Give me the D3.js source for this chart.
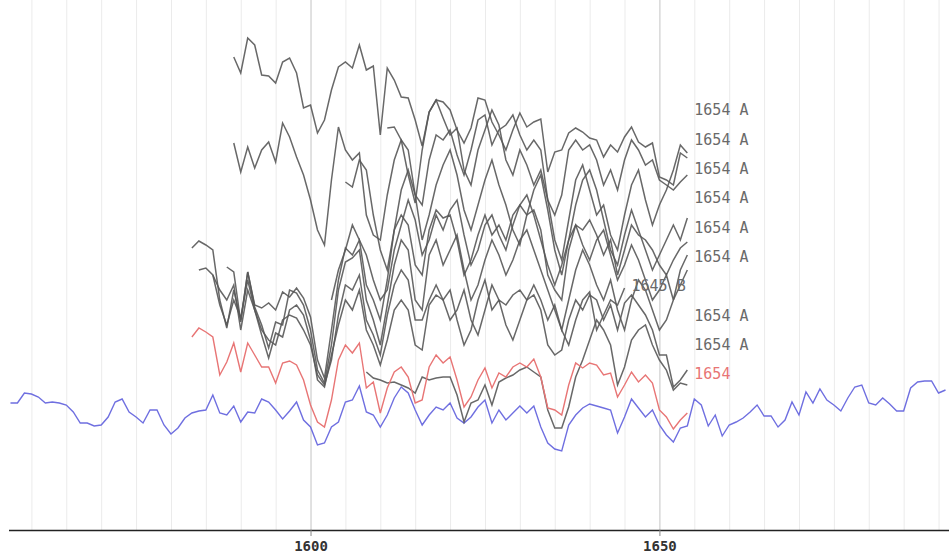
<!DOCTYPE html>
<html>
<head>
<meta charset="utf-8">
<script src="https://cdn.jsdelivr.net/npm/d3@7"></script>
<style>
	body { margin: 0; background: #fff; }
	svg { display: block; }
	.lbl { font-family: "DejaVu Sans Mono", monospace; font-size: 15px; }
	.axis text { font-family: "DejaVu Sans Mono", monospace; font-size: 14px; font-weight: bold; fill: #333; }
</style>
</head>
<body>
<svg id="chart" width="949" height="557"></svg>
<script>
// years shown on the axis
var tickYears = [1600, 1650];

// master chronology (blue), 1557-1691
var masterStart = 1557;
var master = [
	12.7, 12.7, 13.7, 13.6, 13.3, 12.7, 12.8, 12.7, 12.5, 11.8,
	10.7, 10.7, 10.4, 10.5, 11.3, 12.8, 13.1, 11.8, 11.3, 10.7,
	12.0, 12.0, 10.5, 9.6, 10.2, 11.2, 11.7, 11.9, 12.0, 13.5,
	11.7, 11.5, 12.4, 10.8, 11.8, 11.7, 13.1, 12.8, 12.0, 11.1,
	11.9, 12.8, 11.0, 10.3, 8.5, 8.7, 10.3, 10.8, 12.8, 13.0,
	14.4, 11.8, 11.5, 10.3, 11.5, 13.2, 14.3, 13.7, 12.0, 10.5,
	11.5, 12.3, 12.0, 12.7, 11.2, 10.7, 11.3, 12.3, 13.0, 10.7,
	12.0, 11.0, 11.7, 12.4, 11.7, 12.4, 10.3, 8.7, 8.1, 7.9,
	10.5, 11.5, 12.2, 12.6, 12.4, 12.2, 12.0, 9.7, 11.3, 13.1,
	12.2, 11.3, 12.0, 10.5, 9.5, 8.8, 10.2, 10.4, 13.1, 12.5,
	10.4, 11.5, 9.4, 10.5, 10.8, 11.2, 11.8, 12.5, 11.4, 11.4,
	10.3, 11.0, 12.8, 11.5, 13.8, 12.7, 14.1, 13.0, 12.5, 11.9,
	13.2, 14.3, 14.5, 12.7, 12.5, 13.2, 12.6, 11.9, 11.9, 14.2,
	14.8, 14.9, 14.9, 13.7, 14.0
];

// site mean (red), 1583-1654
var meanStart = 1583;
var meanSeries = [
	19.3, 20.2, 19.8, 19.3, 15.5, 16.8, 18.7, 15.8, 18.7, 17.5,
	16.3, 16.3, 14.7, 16.7, 16.9, 16.5, 15.0, 12.5, 10.8, 10.3,
	13.0, 17.0, 18.5, 17.7, 18.7, 14.2, 14.8, 11.7, 14.2, 15.8,
	16.3, 15.3, 12.7, 13.0, 16.3, 17.5, 16.7, 17.3, 15.0, 12.3,
	13.3, 15.0, 16.2, 14.2, 15.7, 15.3, 16.3, 16.7, 16.3, 17.1,
	15.3, 12.2, 12.0, 11.5, 14.5, 16.7, 16.2, 16.7, 16.5, 15.5,
	15.7, 13.3, 14.5, 15.8, 14.8, 15.5, 14.7, 12.0, 11.3, 10.1,
	11.0, 11.7
];

// samples (grey), listed in label order top to bottom
var sampleNames = ['s1', 's2', 's3', 's4', 's5', 's6', 'sB', 's7', 's8', 's9'];
var sampleStarts = [1589, 1589, 1611, 1605, 1583, 1588, 1586, 1584, 1608, 1603];
var sampleGroups = ['A', 'A', 'A', 'A', 'A', 'A', 'B', 'A', 'A', 'A'];

var s1 = [
	47.3, 45.7, 49.2, 48.5, 45.5, 45.4, 44.7, 46.8, 47.2, 45.7,
	42.2, 42.5, 39.7, 41.0, 44.0, 46.3, 46.8, 46.2, 48.5, 46.0,
	46.4, 39.5, 46.2, 45.0, 43.3, 43.2, 41.0, 38.4, 41.8, 43.0,
	42.8, 42.0, 40.0, 38.7, 40.2, 43.2, 43.0, 40.8, 39.5, 38.0,
	40.0, 41.7, 40.3, 40.8, 41.1, 35.8, 37.8, 38.0, 39.7, 40.2,
	39.8, 39.2, 39.0, 37.3, 38.5, 37.8, 39.3, 40.3, 38.8, 38.3,
	38.7, 35.3, 35.0, 34.5, 37.7, 37.2
];
var s2 = [
	38.7, 35.8, 38.3, 36.2, 38.0, 38.8, 36.8, 40.7, 39.3, 37.3,
	35.5, 33.0, 30.0, 28.5, 35.0, 40.3, 38.0, 37.0, 37.7, 31.5,
	29.5, 29.0, 33.5, 37.0, 39.0, 38.0, 33.5, 32.5, 37.0, 39.5,
	39.0, 40.0, 37.5, 35.5, 38.0, 41.0, 41.5, 38.5, 40.0, 40.5,
	41.5, 39.5, 38.0, 39.0, 38.0, 33.0, 31.5, 33.5, 38.0, 39.0,
	38.0, 38.5, 37.0, 34.5, 36.0, 34.0, 37.0, 39.0, 38.0, 36.5,
	37.0, 35.0, 34.5, 34.0, 34.8, 35.5
];
var s3 = [
	40.2, 40.3, 39.0, 35.5, 32.7, 38.0, 41.8, 43.0, 41.2, 39.5,
	40.2, 36.0, 34.5, 38.0, 40.0, 42.0, 40.5, 37.0, 35.5, 38.0,
	36.5, 34.5, 36.0, 33.0, 29.0, 27.0, 31.0, 35.0, 36.5, 34.0,
	31.5, 32.5, 29.5, 28.0, 31.5, 34.5, 36.0, 33.0, 30.5, 32.5,
	34.0, 36.0, 38.5, 37.7
];
var s4 = [
	34.8, 34.3, 37.0, 36.0, 31.5, 28.0, 26.0, 30.0, 34.0, 36.0,
	33.5, 29.0, 31.5, 34.5, 36.5, 38.0, 35.5, 32.0, 30.0, 32.5,
	35.0, 37.0, 34.5, 32.5, 30.0, 28.5, 31.5, 34.0, 35.5, 32.0,
	28.0, 25.5, 29.0, 32.5, 35.0, 36.0, 34.0, 31.0, 28.0, 26.5,
	29.5, 32.0, 30.0, 28.0, 26.0, 27.5, 29.0, 30.5, 29.0, 31.2
];
var s5 = [
	28.2, 28.9, 28.5, 28.0, 23.0, 20.2, 24.0, 21.0, 25.8, 22.5,
	22.2, 22.7, 22.0, 23.8, 23.3, 24.2, 23.2, 21.3, 17.0, 15.2,
	20.0, 25.0, 28.2, 27.5, 29.0, 24.5, 23.0, 21.0, 25.0, 30.0,
	31.5, 30.5, 26.5, 25.5, 30.0, 32.0, 31.2, 31.5, 29.0, 25.5,
	27.0, 29.5, 31.5, 29.5, 30.5, 29.0, 31.5, 32.5, 31.5, 32.0,
	30.0, 25.5, 24.0, 23.0, 28.0, 30.5, 30.0, 31.0, 29.5, 27.5,
	29.0, 25.5, 28.0, 30.5, 29.5, 29.0, 28.0, 26.5, 25.5, 27.0,
	28.2, 28.8
];
var s6 = [
	26.3, 25.8, 20.8, 25.8, 22.3, 20.5, 18.2, 20.8, 20.5, 24.0,
	23.7, 22.5, 20.0, 16.0, 14.7, 18.5, 24.0, 26.8, 27.2, 28.0,
	23.0, 21.0, 18.5, 22.5, 26.5, 29.0, 28.0, 23.0, 22.0, 27.5,
	29.0, 26.5, 28.0, 29.5, 26.0, 23.0, 24.5, 27.0, 29.0, 27.5,
	25.5, 27.0, 29.0, 30.0, 28.0, 26.0, 24.0, 22.0, 20.0, 23.0,
	26.0, 28.0, 26.5, 24.5, 23.0, 25.0, 22.0, 20.0, 23.0, 25.0,
	24.0, 22.0, 20.0, 21.0, 23.0, 24.5, 26.0
];
var sB = [
	25.5, 24.0, 23.0, 24.5, 20.0, 24.0, 22.0, 20.0, 19.0, 18.5,
	21.0, 21.5, 21.2, 20.0, 18.5, 15.5, 14.5, 17.0, 21.5, 24.5,
	24.0, 25.5, 21.0, 19.5, 17.5, 21.5, 24.5, 26.0, 25.0, 21.0,
	21.0, 23.0, 24.5, 23.0, 21.0, 22.0, 24.0, 21.0, 19.5, 22.0,
	24.5, 23.0, 20.5, 19.0, 21.0, 23.0, 24.5, 23.0, 21.0, 22.5,
	20.0, 18.5, 21.0, 23.0, 23.8, 20.0, 21.5, 23.0, 22.5, 24.2
];
var s7 = [
	26.0, 26.2, 25.5, 22.5, 20.5, 23.0, 21.2, 25.0, 22.0, 19.5,
	17.2, 19.7, 19.3, 22.0, 22.5, 21.5, 19.0, 15.0, 14.3, 17.5,
	20.5, 23.0, 22.0, 24.0, 20.0, 18.5, 16.5, 19.0, 22.0, 23.0,
	22.0, 18.5, 18.0, 22.5, 23.5, 23.0, 24.0, 21.0, 18.5, 20.0,
	23.0, 25.0, 22.0, 23.0, 22.5, 23.5, 24.0, 23.0, 23.5, 22.0,
	18.5, 17.5, 18.0, 21.0, 23.0, 22.0, 23.5, 23.0, 21.0, 22.5,
	20.0, 22.7, 23.5, 22.5, 21.5, 20.0, 17.5, 17.5, 14.3, 15.0,
	16.0
];
var s8 = [
	15.8, 15.2, 15.0, 14.7, 14.8, 14.5, 14.2, 13.7, 15.3, 15.0,
	15.2, 15.3, 15.3, 13.5, 10.8, 12.7, 13.0, 14.5, 12.5, 14.8,
	15.2, 15.5, 16.0, 16.3, 15.8, 15.3, 12.0, 10.2, 10.2, 12.3,
	15.3, 17.0, 19.0, 21.0, 20.0, 18.5, 14.5, 16.3, 19.0, 20.0,
	20.5, 18.5, 17.0, 16.0, 14.0, 14.7, 14.5
];
var s9 = [
	23.0, 26.0, 28.0, 30.5, 29.0, 27.5, 25.0, 23.0, 24.0, 28.0,
	30.5, 33.0, 31.0, 27.5, 29.0, 31.5, 30.0, 32.0, 33.0, 29.5,
	26.5, 28.0, 30.5, 31.5, 29.5, 28.0, 30.5, 32.5, 33.5, 31.5,
	29.0, 26.5, 24.5, 26.5, 29.0, 30.5, 28.5, 27.0, 29.0, 30.0,
	27.5, 25.0, 26.5, 28.5, 27.0, 25.0, 23.0, 24.0, 25.5, 23.0,
	26.0, 27.5
];
var sampleValues = [s1, s2, s3, s4, s5, s6, sB, s7, s8, s9];

// order of the labels down the right side
var labelRows = ['s1', 's2', 's3', 's4', 's5', 's6', 'sB', 's7', 's8', 'mean'];

var W = 949, axisY = 530;

var svg = d3.select('#chart');

var x = d3.scaleLinear().domain([1555.5, 1691.5]).range([0, W]);
var y = d3.scaleLinear().domain([0, 53]).range([axisY, 0]);
var row = d3.scalePoint().domain(labelRows).range([110, 374]);

// vertical grid
var gridYears = d3.range(1560, 1691, 5);
svg.append('g').selectAll('line').data(gridYears).enter().append('line')
	.attr('x1', function(d){ return x(d) + 0.5 })
	.attr('x2', function(d){ return x(d) + 0.5 })
	.attr('y1', 0)
	.attr('y2', axisY)
	.style('stroke', function(d){ return tickYears.indexOf(d) >= 0 ? '#c4c4c4' : '#ebebeb' })
	.style('stroke-width', 1);

function series(start, vals) {
	return vals.map(function(v, i){ return {year: start + i, v: v} });
}

var line = d3.line()
	.x(function(d){ return x(d.year) })
	.y(function(d){ return y(d.v) });

var samples = sampleNames.map(function(n, i) {
	return {
		key: n,
		start: sampleStarts[i],
		group: sampleGroups[i],
		pts: series(sampleStarts[i], sampleValues[i])
	};
});

// blue master
svg.append('path')
	.datum(series(masterStart, master))
	.attr('d', line)
	.style('fill', 'none')
	.style('stroke', '#6f6fe0')
	.style('stroke-width', 1.4);

// grey samples
svg.append('g').selectAll('path').data(samples, function(d){ return d.key }).enter().append('path')
	.attr('d', function(d){ return line(d.pts) })
	.style('fill', 'none')
	.style('stroke', '#585858')
	.style('stroke-opacity', 0.9)
	.style('stroke-width', 1.5);

// red mean
svg.append('path')
	.datum(series(meanStart, meanSeries))
	.attr('d', line)
	.style('fill', 'none')
	.style('stroke', '#e87575')
	.style('stroke-width', 1.4);

// labels, placed one year after the last ring
var rowKeys = labelRows.slice(0, 9);
svg.append('g').selectAll('text').data(rowKeys).enter().append('text')
	.attr('class', 'lbl')
	.attr('x', function(k) {
		var s = samples[sampleNames.indexOf(k)];
		return x(s.start + s.pts.length);
	})
	.attr('y', function(k){ return row(k) })
	.attr('dy', '0.35em')
	.style('fill', '#6a6a6a')
	.text(function(k) {
		var s = samples[sampleNames.indexOf(k)];
		return (s.start + s.pts.length - 1) + ' ' + s.group;
	});

svg.append('text')
	.attr('class', 'lbl')
	.attr('x', x(meanStart + meanSeries.length))
	.attr('y', row('mean'))
	.attr('dy', '0.35em')
	.style('fill', '#e87575')
	.text(meanStart + meanSeries.length - 1);

// axis
var axis = svg.append('g')
	.attr('class', 'axis')
	.attr('transform', 'translate(0,' + axisY + ')')
	.call(d3.axisBottom(x).tickValues(tickYears).tickFormat(d3.format('d')).tickSize(6).tickSizeOuter(0).tickPadding(5));
axis.select('.domain').attr('d', 'M9,0.5H' + W).style('stroke', '#222').style('stroke-width', 1.5);
axis.selectAll('.tick line').style('stroke', '#888');
</script>
</body>
</html>
